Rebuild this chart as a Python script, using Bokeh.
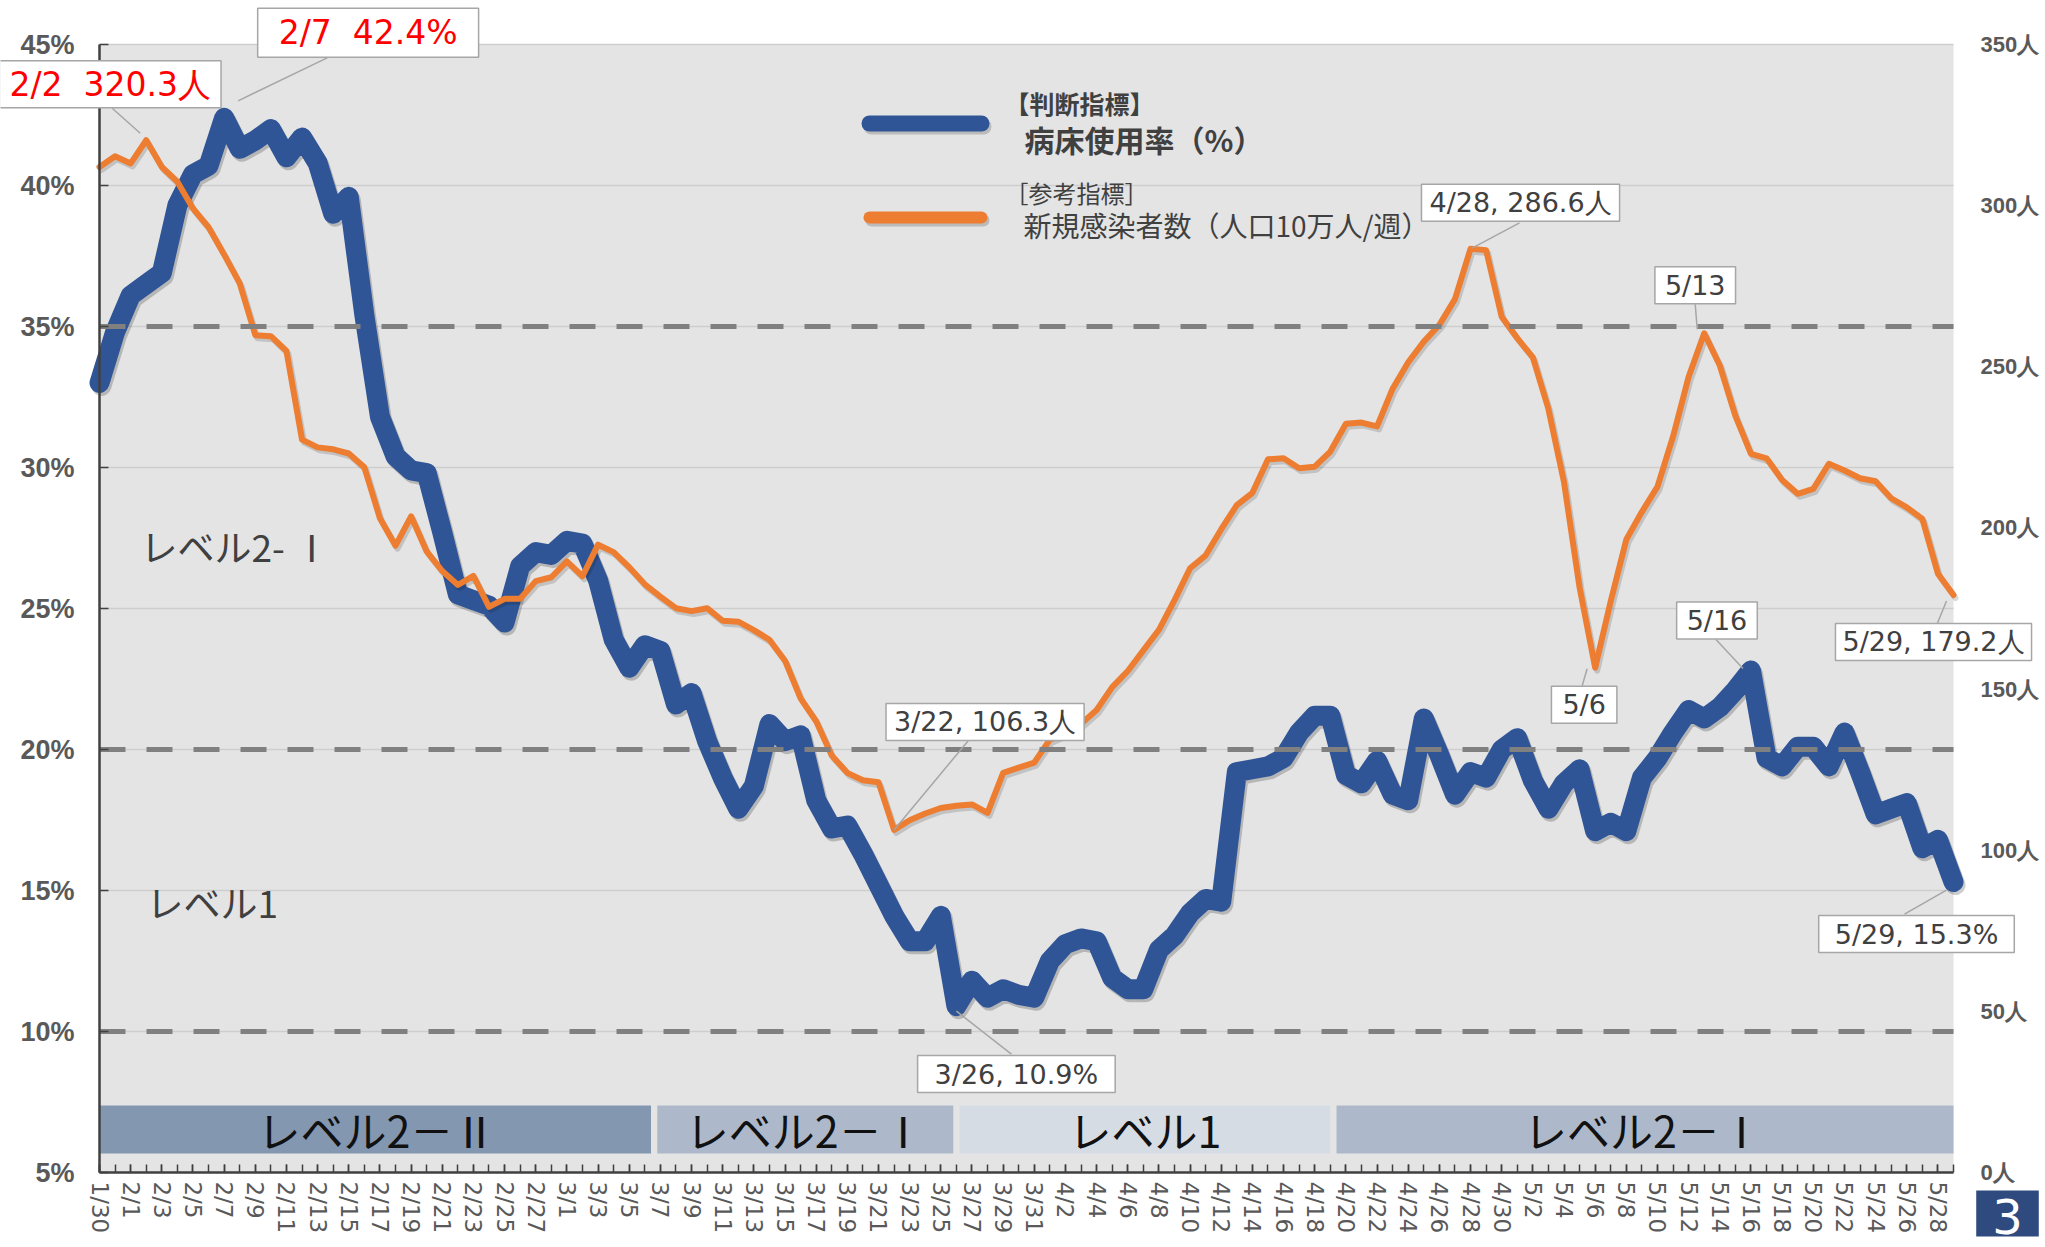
from datetime import date, timedelta

from bokeh.plotting import figure
from bokeh.models import Range1d, LinearAxis, FixedTicker, Label, PrintfTickFormatter
from bokeh.core.properties import value
from bokeh.embed import file_html
from bokeh.resources import INLINE

# ---------------- data ----------------
first_day = date(2022, 1, 30)
n_days = 120
dates = [f"{d.month}/{d.day}" for d in (first_day + timedelta(days=k) for k in range(n_days))]
days = list(range(n_days))

# 病床使用率 (%)
bed_rate = [
    33.0, 34.8, 36.1, 36.5, 36.9, 39.3, 40.4, 40.7, 42.4, 41.3,
    41.6, 42.0, 41.0, 41.7, 40.8, 39.0, 39.6, 35.4, 31.8, 30.4,
    29.9, 29.8, 27.7, 25.5, 25.3, 25.1, 24.5, 26.5, 27.0, 26.9,
    27.4, 27.3, 26.0, 23.9, 22.9, 23.7, 23.5, 21.6, 22.0, 20.3,
    19.0, 17.9, 18.7, 20.9, 20.3, 20.5, 18.2, 17.2, 17.3, 16.3,
    15.2, 14.1, 13.2, 13.2, 14.1, 10.9, 11.8, 11.2, 11.5, 11.3,
    11.2, 12.5, 13.1, 13.3, 13.2, 11.9, 11.5, 11.5, 12.9, 13.4,
    14.2, 14.7, 14.6, 19.2, 19.3, 19.4, 19.7, 20.6, 21.2, 21.2,
    19.1, 18.8, 19.6, 18.4, 18.2, 21.1, 19.8, 18.4, 19.2, 19.0,
    20.0, 20.4, 18.9, 17.9, 18.8, 19.3, 17.1, 17.4, 17.1, 19.0,
    19.7, 20.6, 21.4, 21.1, 21.5, 22.1, 22.8, 19.7, 19.4, 20.1,
    20.1, 19.4, 20.6, 19.2, 17.7, 17.9, 18.1, 16.5, 16.8, 15.3,
]

# 新規感染者数 (人口10万人/週)
new_cases = [
    312.0, 315.3, 313.1, 320.3, 312.0, 307.4, 299.1, 293.3, 284.8, 275.9,
    259.8, 259.5, 254.9, 227.4, 225.0, 224.4, 223.1, 218.8, 203.0, 194.5,
    203.6, 192.7, 186.6, 182.3, 185.1, 175.5, 178.0, 178.0, 183.5, 184.7,
    189.6, 185.0, 194.8, 192.5, 187.8, 182.5, 178.7, 175.1, 174.2, 175.1,
    171.2, 170.9, 168.3, 165.3, 158.8, 147.1, 140.0, 129.4, 124.0, 121.7,
    121.1, 106.3, 109.3, 111.4, 113.1, 113.8, 114.2, 111.6, 124.0, 125.6,
    127.2, 134.3, 136.4, 139.2, 143.5, 150.6, 155.6, 162.0, 168.4, 177.6,
    187.5, 191.5, 199.6, 207.1, 210.9, 221.3, 221.6, 218.5, 219.0, 223.7,
    232.3, 232.7, 231.5, 243.2, 251.4, 257.8, 263.0, 271.0, 286.6, 286.2,
    265.5, 258.9, 252.9, 236.9, 214.2, 181.5, 156.6, 177.3, 196.4, 205.0,
    212.8, 228.4, 246.9, 260.4, 250.4, 234.8, 223.0, 221.6, 214.9, 210.6,
    212.1, 219.9, 217.8, 215.4, 214.5, 209.2, 206.4, 202.8, 185.8, 179.2,
]

thresholds = [10, 20, 35]
left_ticks = [5, 10, 15, 20, 25, 30, 35, 40, 45]
right_ticks = [0, 50, 100, 150, 200, 250, 300, 350]

level_names = ["レベル2－Ⅱ", "レベル2－Ⅰ", "レベル1", "レベル2－Ⅰ"]
level_edges = [0, 35.6, 55.0, 79.2, 119]
level_colors = ["#8497B0", "#ADB9CA", "#D6DCE4", "#ADB9CA"]

zone_names = ["レベル2- Ⅰ", "レベル1"]

NB = "\u00a0"
# annotations: text, day, series, colour, font size, box offset(px), leader start(px), leader end(px), pad(v,h)
notes = [
    (f"2/2{NB}{NB}320.3人", "2/2", "cases", "#FF0000", "33px", (-36, 56), (-34, 32), (-6, 7), (4, 10)),
    (f"2/7{NB}{NB}42.4%", "2/7", "bed", "#FF0000", "33px", (144, 85), (103, 60), (14, 17), (5, 21)),
    ("4/28, 286.6人", "4/28", "cases", "#404040", "27px", (50, 46), (49, 26), (2, 1), (3, 8)),
    ("5/13", "5/13", "cases", "#404040", "27px", (-9, 48), (-9, 29), (-7, 4), (3, 10)),
    ("5/6", "5/6", "cases", "#404040", "27px", (-11, -37), (-13, -18), (-8, -1), (3, 11)),
    ("5/16", "5/16", "bed", "#404040", "27px", (-34, 50), (-35, 31), (-8, 2), (3, 10)),
    ("3/22, 106.3人", "3/22", "cases", "#404040", "27px", (91, 108), (74, 89), (0, 0), (3, 8)),
    ("3/26, 10.9%", "3/26", "bed", "#404040", "27px", (60, -68), (55, -48), (0, -5), (3, 17)),
    ("5/29, 179.2人", "5/29", "cases", "#404040", "27px", (-20, -47), (-16, -28), (-7, -6), (3, 7)),
    ("5/29, 15.3%", "5/29", "bed", "#404040", "27px", (-37, -52), (-49, -32), (-7, -8), (3, 16)),
]

# ---------------- styling ----------------
BLUE = "#2F5597"
ORANGE = "#ED7D31"
BG = "#E4E4E4"
GRID = "#CDCDCD"
DASH = "#808080"
AXIS = "#404040"
TXT = "#595959"
DARK = "#404040"
CJK = "Noto Sans CJK JP"

W, H = 2045, 1247
# plot-area edges in canvas pixels
X0, X1, Y_TOP, Y_BOT = 99, 1953, 44, 1172
PX_DAY = (X1 - X0) / (n_days - 1)
PX_PCT = (Y_BOT - Y_TOP) / (left_ticks[-1] - left_ticks[0])
PX_PPL = (Y_BOT - Y_TOP) / (right_ticks[-1] - right_ticks[0])
SHADOW_DX, SHADOW_DY = 2, 3  # px, right / down

x_rng = Range1d(days[0] - X0 / PX_DAY, days[-1] + (W - X1) / PX_DAY)
y_rng = Range1d(left_ticks[0] - (H - Y_BOT) / PX_PCT, left_ticks[-1] + Y_TOP / PX_PCT)
r_rng = Range1d(right_ticks[0] - (H - Y_BOT) / PX_PPL, right_ticks[-1] + Y_TOP / PX_PPL)

p = figure(width=W, height=H, output_backend="svg", toolbar_location=None,
           x_range=x_rng, y_range=y_rng, min_border=0)
p.extra_y_ranges = {"right": r_rng}
p.background_fill_color = "white"
p.border_fill_color = "white"
p.outline_line_color = None
p.xgrid.visible = False
p.ygrid.visible = False
p.title.visible = False

# plot area and grid
p.quad(left=days[0], right=days[-1], bottom=left_ticks[0], top=left_ticks[-1],
       fill_color=BG, line_color=None)
p.segment(x0=days[0], x1=days[-1], y0=left_ticks[1:], y1=left_ticks[1:],
          line_color=GRID, line_width=1.5)

# x axis
xa = p.xaxis[0]
xa.fixed_location = left_ticks[0]
xa.bounds = (days[0], days[-1])
xa.ticker = FixedTicker(ticks=days[::2], minor_ticks=days)
xa.major_label_overrides = {i: dates[i] for i in days[::2]}
xa.major_label_orientation = "vertical"
xa.major_label_text_font = "DejaVu Sans"
xa.major_label_text_font_size = "23px"
xa.major_label_text_color = TXT
xa.major_label_standoff = 9
xa.axis_line_color = AXIS
xa.axis_line_width = 2.5
xa.major_tick_in = 8
xa.major_tick_out = 0
xa.minor_tick_in = 8
xa.minor_tick_out = 0
xa.major_tick_line_color = AXIS
xa.minor_tick_line_color = AXIS
xa.major_tick_line_width = 1.5
xa.minor_tick_line_width = 1.5

# left axis
ya = p.yaxis[0]
ya.fixed_location = days[0]
ya.bounds = (left_ticks[0], left_ticks[-1])
ya.ticker = FixedTicker(ticks=left_ticks)
ya.formatter = PrintfTickFormatter(format="%d%%")
ya.major_label_text_font = "Liberation Sans"
ya.major_label_text_font_style = "bold"
ya.major_label_text_font_size = "27px"
ya.major_label_text_color = TXT
ya.major_label_standoff = 25
ya.axis_line_color = AXIS
ya.axis_line_width = 2.5
ya.major_tick_in = 9
ya.major_tick_out = 0
ya.major_tick_line_color = AXIS
ya.major_tick_line_width = 1.5
ya.minor_tick_line_color = None

# right axis
ra = LinearAxis(y_range_name="right", ticker=FixedTicker(ticks=right_ticks),
                formatter=PrintfTickFormatter(format="%d人"))
ra.fixed_location = days[-1]
ra.bounds = (right_ticks[0], right_ticks[-1])
ra.major_label_text_font = "Liberation Sans"
ra.major_label_text_font_style = "bold"
ra.major_label_text_font_size = "22px"
ra.major_label_text_color = TXT
ra.major_label_standoff = 21
ra.axis_line_color = None
ra.major_tick_line_color = None
ra.minor_tick_line_color = None
p.add_layout(ra, "right")

# level bands at the bottom
BAND_LO, BAND_HI = 5.674, 7.376
gap = 0.2
p.quad(left=[level_edges[k] + (gap if k > 0 else 0) for k in range(4)],
       right=[level_edges[k + 1] - (gap if k < 3 else 0) for k in range(4)],
       bottom=BAND_LO, top=BAND_HI, fill_color=level_colors, line_color=None)
p.text(x=[(level_edges[k] + level_edges[k + 1]) / 2 for k in range(4)],
       y=[(BAND_LO + BAND_HI) / 2] * 4, text=level_names,
       text_font=value(CJK), text_font_size="43px", text_color="#111111",
       text_align="center", text_baseline="middle")

# zone labels
zone_y = [(thresholds[1] + thresholds[2]) / 2 - 0.3, (thresholds[0] + thresholds[1]) / 2 - 0.4]
p.text(x=[41 / PX_DAY, 47 / PX_DAY], y=zone_y, text=zone_names,
       text_font=value(CJK), text_font_size="37px", text_color=DARK,
       text_align="left", text_baseline="middle")

# series (with a soft drop shadow like the original)
sdx = SHADOW_DX / PX_DAY
p.line([d + sdx for d in days], [v - SHADOW_DY / PX_PCT for v in bed_rate], line_color="black",
       line_alpha=0.2, line_width=20, line_join="round", line_cap="round")
p.line(days, bed_rate, line_color=BLUE, line_width=20, line_join="round", line_cap="round")
p.line([d + sdx for d in days], [v - SHADOW_DY / PX_PPL for v in new_cases], y_range_name="right",
       line_color="black", line_alpha=0.15, line_width=6, line_join="round", line_cap="round")
p.line(days, new_cases, y_range_name="right", line_color=ORANGE, line_width=6,
       line_join="round", line_cap="round")

# threshold dashed lines
p.segment(x0=days[0], x1=days[-1], y0=thresholds, y1=thresholds,
          line_color=DASH, line_width=5, line_dash="26 21")

# legend (drawn)
top = left_ticks[-1]
lg_x0, lg_x1 = 770 / PX_DAY, 882 / PX_DAY
for yy, col, lw in ((top - 79 / PX_PCT, BLUE, 16), (top - 173 / PX_PCT, ORANGE, 12)):
    p.line([lg_x0 + sdx, lg_x1 + sdx], [yy - SHADOW_DY / PX_PCT] * 2, line_color="black",
           line_alpha=0.18, line_width=lw, line_cap="round")
    p.line([lg_x0, lg_x1], [yy] * 2, line_color=col, line_width=lw, line_cap="round")
p.text(x=[905 / PX_DAY], y=[top - 58 / PX_PCT], text=["【判断指標】"], text_font=value(CJK),
       text_font_size="25px", text_font_style="bold", text_color=DARK, text_baseline="middle")
p.text(x=[925 / PX_DAY], y=[top - 94 / PX_PCT], text=["病床使用率（%）"], text_font=value(CJK),
       text_font_size="30px", text_font_style="bold", text_color=DARK, text_baseline="middle")
p.text(x=[905 / PX_DAY], y=[top - 148 / PX_PCT], text=["［参考指標］"], text_font=value(CJK),
       text_font_size="24px", text_color=DARK, text_baseline="middle")
p.text(x=[924 / PX_DAY], y=[top - 180 / PX_PCT], text=["新規感染者数（人口10万人/週）"],
       text_font=value(CJK), text_font_size="28px", text_color=DARK, text_baseline="middle")

# annotations, anchored on the data points
for text, day, series, color, size, box, l0, l1, pad in notes:
    i = dates.index(day)
    if series == "bed":
        yv, rng, ppu = bed_rate[i], "default", PX_PCT
    else:
        yv, rng, ppu = new_cases[i], "right", PX_PPL
    p.segment(x0=[i + l0[0] / PX_DAY], y0=[yv + l0[1] / ppu], x1=[i + l1[0] / PX_DAY],
              y1=[yv + l1[1] / ppu], y_range_name=rng, line_color="#A6A6A6", line_width=1.5)
    p.add_layout(Label(x=i, y=yv, x_offset=box[0], y_offset=box[1], y_range_name=rng,
                       text=text, text_color=color, text_font="DejaVu Sans", text_font_size=size,
                       text_align="center", text_baseline="middle",
                       background_fill_color="white", border_line_color="#A6A6A6",
                       border_line_width=1.5,
                       padding=dict(left=pad[1], right=pad[1], top=pad[0], bottom=pad[0])))

# page number box (kept fully inside the canvas)
p.add_layout(Label(x=days[-1], y=left_ticks[0], x_offset=54, y_offset=-(H - Y_BOT) + 34,
                   text="3", text_color="white", text_font="DejaVu Sans", text_font_size="48px",
                   text_align="center", text_baseline="middle",
                   background_fill_color="#2E4A7F",
                   padding=dict(left=16, right=16, top=8, bottom=3)))

open("out.html", "w").write(file_html(p, INLINE))
